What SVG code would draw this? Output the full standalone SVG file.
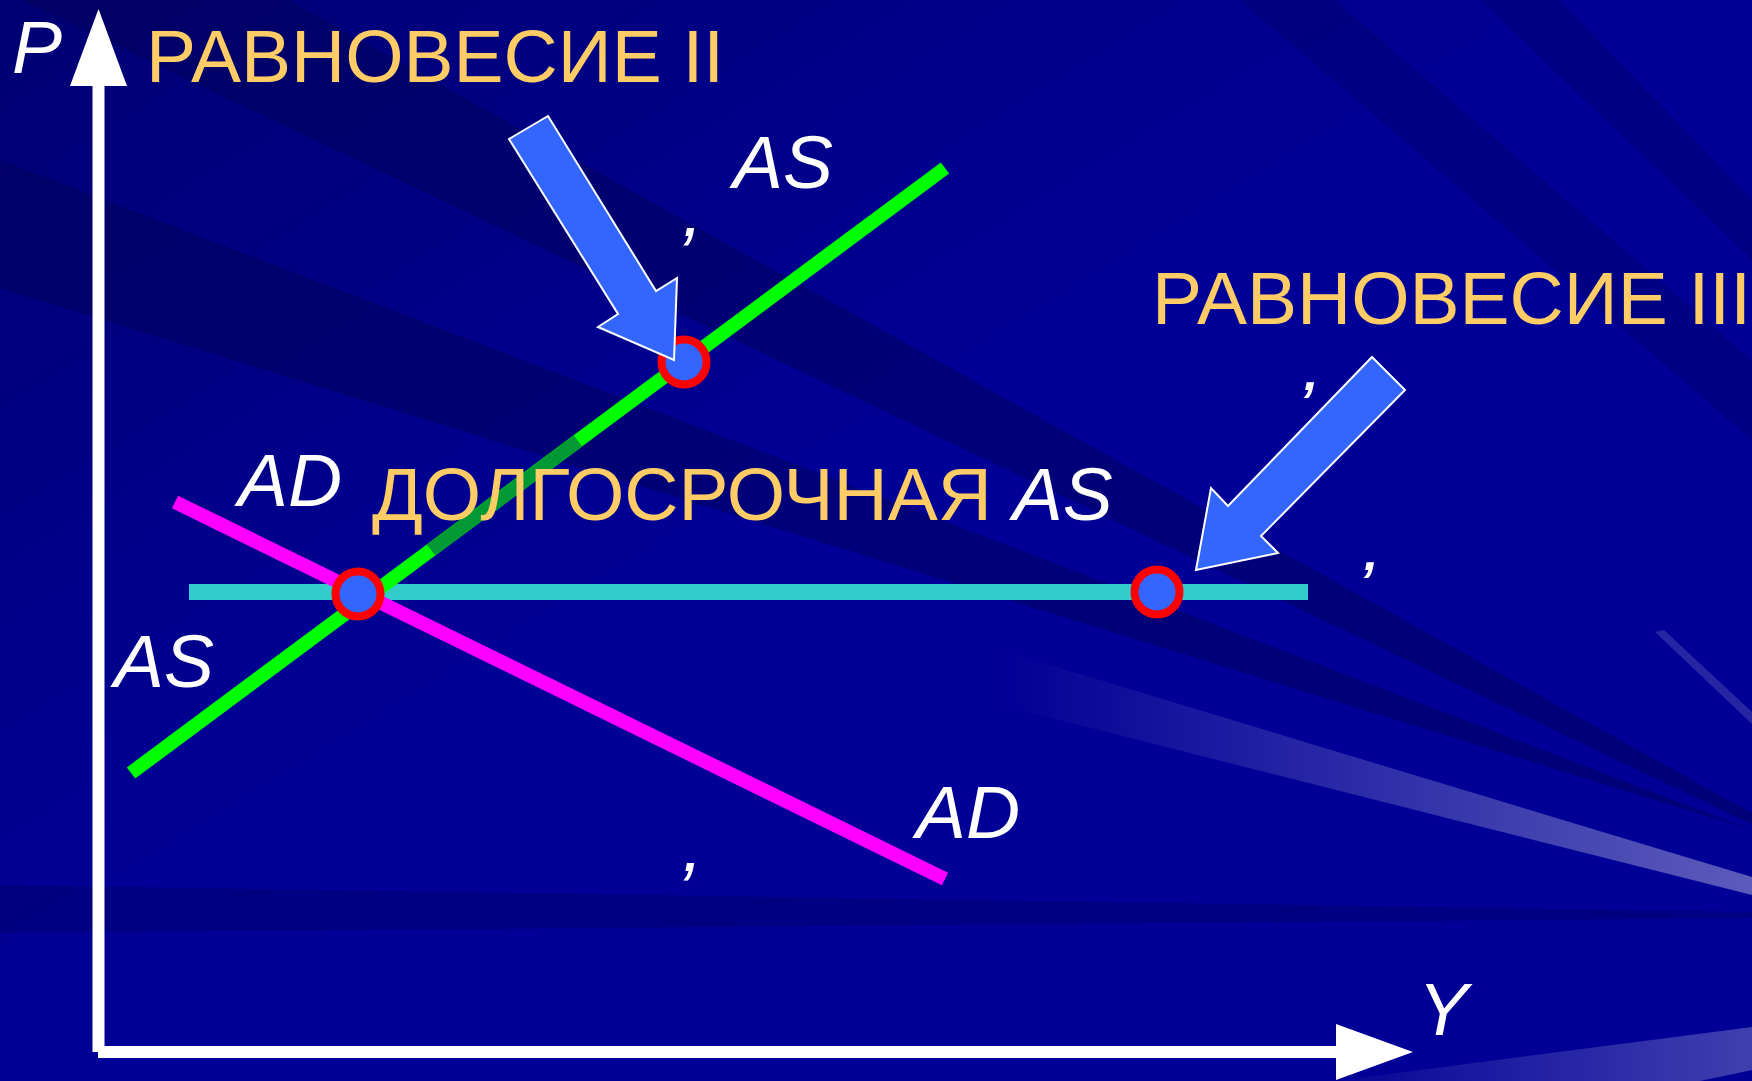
<svg xmlns="http://www.w3.org/2000/svg" width="1752" height="1081" viewBox="0 0 1752 1081">
<defs>
<style>
.t{font-family:"Liberation Sans",Arial,sans-serif;font-size:75px}
.y{fill:#FFCC66}
.w{fill:#FFFFFF;font-style:italic}
.cm{font-family:"Liberation Sans",Arial,sans-serif;font-size:52px;font-weight:bold;font-style:italic;fill:#FFFFFF}
.dark{fill:#000055;opacity:0.45}
.blk{fill:#3366FF;stroke:#FFFFFF;stroke-width:2;stroke-linejoin:miter}
.pt{fill:#3366FF;stroke:#FF0000;stroke-width:8}
.axis{stroke:#FFFFFF;stroke-width:12;fill:none}
</style>
<linearGradient id="tl" x1="0" y1="0" x2="1" y2="1">
<stop offset="0" stop-color="#000050" stop-opacity="0.5"/>
<stop offset="0.45" stop-color="#000050" stop-opacity="0"/>
</linearGradient>
<linearGradient id="ray1" gradientUnits="userSpaceOnUse" x1="1000" y1="0" x2="1752" y2="0">
<stop offset="0" stop-color="#FFFFFF" stop-opacity="0"/>
<stop offset="1" stop-color="#FFFFFF" stop-opacity="0.36"/>
</linearGradient>
<linearGradient id="ray2" gradientUnits="userSpaceOnUse" x1="1330" y1="0" x2="1752" y2="0">
<stop offset="0" stop-color="#FFFFFF" stop-opacity="0.02"/>
<stop offset="1" stop-color="#FFFFFF" stop-opacity="0.25"/>
</linearGradient>
</defs>

<g id="background">
<rect width="1752" height="1081" fill="#000096"/>
<rect width="1752" height="1081" fill="url(#tl)"/>
<polygon class="dark" points="0,-160 0,-10 1890,890"/>
<polygon class="dark" points="0,160 0,288 1752,830"/>
<polygon class="dark" style="opacity:0.25" points="1240,0 1335,0 1752,360 1752,440"/>
<polygon class="dark" style="opacity:0.25" points="1480,0 1560,0 1752,200 1752,260"/>
<polygon class="dark" style="opacity:0.3" points="0,885 0,933 1752,918 1752,912"/>
<polygon fill="url(#ray1)" points="1000,650 1752,877 1752,895 1000,705"/>
<polygon fill="url(#ray2)" points="1336,1081 1752,1027 1752,1070 1700,1081"/>
<polygon fill="#FFFFFF" opacity="0.15" points="1655,632 1664,630 1752,712 1752,724"/>
</g>

<g id="axes">
<line class="axis" x1="98.5" y1="80" x2="98.5" y2="1052"/>
<polygon fill="#FFFFFF" points="98.5,9 127,86 70,86"/>
<line class="axis" x1="98" y1="1052" x2="1340" y2="1052"/>
<polygon fill="#FFFFFF" points="1413,1052 1336,1024 1336,1080"/>
<text class="t w" x="12" y="73">P</text>
<text class="t w" x="1418" y="1035">Y</text>
</g>

<g id="curve-LRAS">
<line x1="189" y1="592" x2="1308" y2="592" stroke="#33CCCC" stroke-width="16"/>
</g>
<g id="curve-AD">
<line x1="175" y1="502" x2="945" y2="879" stroke="#FF00FF" stroke-width="14"/>
<text class="t w" x="238" y="506">AD</text>
<text class="t w" x="916" y="838">AD</text>
<text class="t w" x="682" y="871">,</text>
</g>
<g id="curve-AS">
<line x1="131" y1="773" x2="945" y2="168" stroke="#00FF00" stroke-width="14"/>
<line x1="578" y1="441" x2="431" y2="550" stroke="#009933" stroke-width="14"/>
<text class="t w" x="114" y="687">AS</text>
<text class="t w" x="733" y="188">AS</text>
<text class="t w" x="682" y="236">,</text>
</g>

<g id="label-LRAS">
<text class="t" x="372" y="520"><tspan class="y">ДОЛГОСРОЧНАЯ </tspan><tspan class="w">AS</tspan></text>
<text class="cm" x="1364" y="570">,</text>
</g>

<g id="point-1"><circle class="pt" cx="358" cy="594" r="22.5"/></g>
<g id="point-2"><circle class="pt" cx="684" cy="362" r="22.5"/></g>
<g id="point-3"><circle class="pt" cx="1157" cy="592" r="22.5"/></g>

<g id="label-eq2">
<text class="t y" x="146" y="82">РАВНОВЕСИЕ II</text>
</g>
<g id="label-eq3">
<text class="t y" x="1152" y="324">РАВНОВЕСИЕ III</text>
<text class="cm" x="1304" y="390">,</text>
</g>

<g id="connectors">
<polygon class="blk" points="509,139 548,116 656,291 677,278 674,360 598,327 618,314"/>
<polygon class="blk" points="1372,357 1405,390 1261,536 1278,553 1196,570 1211,488 1228,506"/>
</g>
</svg>
